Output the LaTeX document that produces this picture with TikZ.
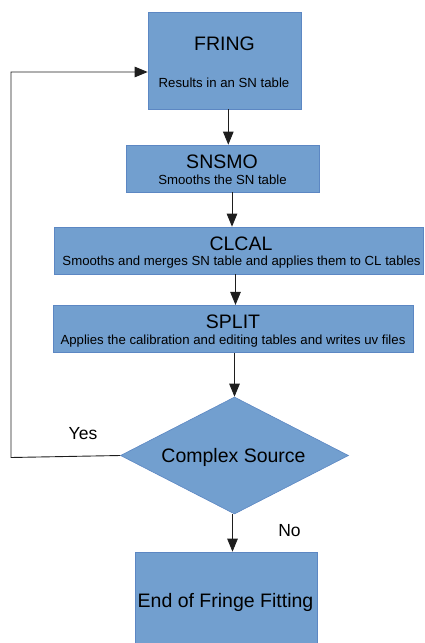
\documentclass[tikz,border=0pt]{standalone}
\usepackage{fontspec}
\setmainfont{Liberation Sans}
\usetikzlibrary{shapes.geometric,arrows.meta}
\definecolor{boxfill}{RGB}{114,159,207}
\definecolor{boxline}{RGB}{92,135,195}
\definecolor{wire}{RGB}{30,30,30}
\tikzset{
  box/.style={rectangle, fill=boxfill, draw=boxline, line width=0.6pt, inner sep=0pt},
  decision/.style={diamond, fill=boxfill, draw=boxline, line width=0.6pt, inner sep=0pt},
  title/.style={anchor=base, inner sep=0pt, font=\fontsize{19.5}{22}\selectfont},
  subtitle/.style={anchor=base, inner sep=0pt, font=\fontsize{13.2}{15}\selectfont},
  answer/.style={anchor=base, inner sep=0pt, font=\fontsize{17.5}{20}\selectfont},
  flow/.style={draw=wire, line width=0.9pt, -{Triangle[length=13pt,width=10.5pt]}}
}
\begin{document}
\begin{tikzpicture}[x=1pt,y=-1pt]
\useasboundingbox (0,0) rectangle (424,643);

% process boxes
\node[box, minimum width=153pt, minimum height=97pt] (fring) at (224.5,60.5) {};
\node[box, minimum width=193pt, minimum height=47pt] (snsmo) at (222.5,168.5) {};
\node[box, minimum width=369pt, minimum height=47pt] (clcal) at (238.5,250.5) {};
\node[box, minimum width=360pt, minimum height=47.5pt] (split) at (233,329) {};
\node[decision, minimum width=228pt, minimum height=117pt] (dec) at (234.5,455.5) {};
\node[box, minimum width=181.7pt, minimum height=93pt] (done) at (226,598.5) {};

% box texts
\node[title] (fringt) at (224.5,50) {FRING};
\node[subtitle] (frings) at (224,87) {Results in an SN table};
\node[title] (snsmot) at (222,168) {SNSMO};
\node[subtitle] (snsmos) at (222.5,184) {Smooths the SN table};
\node[title] (clcalt) at (241,250) {CLCAL};
\node[subtitle] (clcals) at (241.5,265.7) {Smooths and merges SN table and applies them to CL tables};
\node[title] (splitt) at (233,328) {SPLIT};
\node[subtitle] (splits) at (233,344) {Applies the calibration and editing tables and writes uv files};
\node[title] (dect) at (233.5,462.5) {Complex Source};
\node[title] (donet) at (225.5,607) {End of Fringe Fitting};

% branch labels
\node[answer] (yes) at (83,439) {Yes};
\node[answer] (no) at (289.5,536) {No};

% main flow
\draw[flow] (228.3,0 |- fring.south) -- (228.3,0 |- snsmo.north);
\draw[flow] (232,0 |- snsmo.south) -- (232,0 |- clcal.north);
\draw[flow] (235.5,0 |- clcal.south) -- (235.5,0 |- split.north);
\draw[flow] (dec.north |- split.south) -- (dec.north);
\draw[flow] (232.5,0 |- dec.south) -- (232.5,0 |- done.north);

% loop back on "Yes"
\coordinate (loopb) at (11,457.5);
\coordinate (loopt) at (11,72);
\draw[flow] (dec.west) -- (loopb) -- (loopt) -- (fring.west |- loopt);
\end{tikzpicture}
\end{document}
